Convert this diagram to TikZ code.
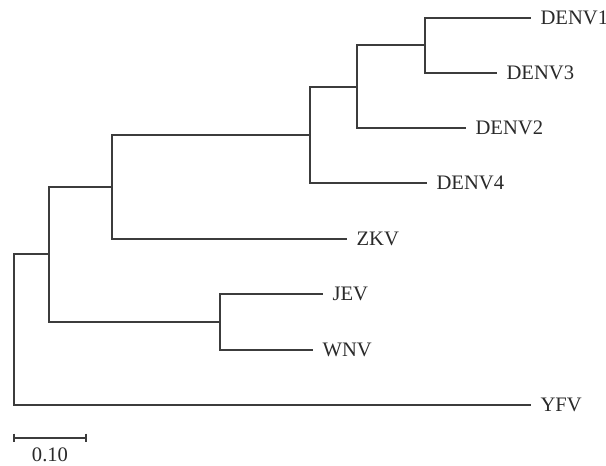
\documentclass[tikz,border=0pt]{standalone}
\usepackage{fontspec}
\setmainfont{Liberation Serif}
\definecolor{branch}{HTML}{3C3C3C}
\definecolor{labeltext}{HTML}{2A2A2A}
\begin{document}
\begin{tikzpicture}[x=0.5pt,y=-0.5pt,
  edge/.style={draw=branch,line width=0.65pt},
  taxon/.style={anchor=base west,inner sep=0pt,text=labeltext,
    font=\fontsize{10.3pt}{12pt}\selectfont,xshift=4.6pt,yshift=-3.4pt}]
\useasboundingbox (0,0) rectangle (606,466);
% internal nodes (x = distance from root, y = row)
\coordinate (root) at (14,329.5);
\coordinate (a) at (49,254);
\coordinate (b) at (112,187);
\coordinate (c) at (310,135);
\coordinate (d) at (357,87);
\coordinate (e) at (425,45);
\coordinate (f) at (220,322);
% tips
\coordinate (tDENV1) at (531,18);
\coordinate (tDENV3) at (497,73);
\coordinate (tDENV2) at (466,128);
\coordinate (tDENV4) at (427,183);
\coordinate (tZKV) at (347,239);
\coordinate (tJEV) at (323,294);
\coordinate (tWNV) at (313,350);
\coordinate (tYFV) at (531,405);
% labels
\node[taxon] (lDENV1) at (tDENV1) {DENV1};
\node[taxon] (lDENV3) at (tDENV3) {DENV3};
\node[taxon] (lDENV2) at (tDENV2) {DENV2};
\node[taxon] (lDENV4) at (tDENV4) {DENV4};
\node[taxon] (lZKV) at (tZKV) {ZKV};
\node[taxon] (lJEV) at (tJEV) {JEV};
\node[taxon] (lWNV) at (tWNV) {WNV};
\node[taxon] (lYFV) at (tYFV) {YFV};
% branches
\draw[edge] (root) |- (a);
\draw[edge] (root) |- (tYFV);
\draw[edge] (a) |- (b);
\draw[edge] (a) |- (f);
\draw[edge] (f) |- (tJEV);
\draw[edge] (f) |- (tWNV);
\draw[edge] (b) |- (c);
\draw[edge] (b) |- (tZKV);
\draw[edge] (c) |- (d);
\draw[edge] (c) |- (tDENV4);
\draw[edge] (d) |- (e);
\draw[edge] (d) |- (tDENV2);
\draw[edge] (e) |- (tDENV1);
\draw[edge] (e) |- (tDENV3);
% scale bar
\coordinate (s0) at (14,438);
\coordinate (s1) at (86,438);
\draw[edge] (s0) -- (s1);
\draw[edge] ([yshift=2.2pt]s0) -- ([yshift=-2.2pt]s0);
\draw[edge] ([yshift=2.2pt]s1) -- ([yshift=-2.2pt]s1);
\node[anchor=base,inner sep=0pt,text=labeltext,font=\fontsize{10.3pt}{12pt}\selectfont] (scale) at (50,461) {0.10};
\end{tikzpicture}
\end{document}
